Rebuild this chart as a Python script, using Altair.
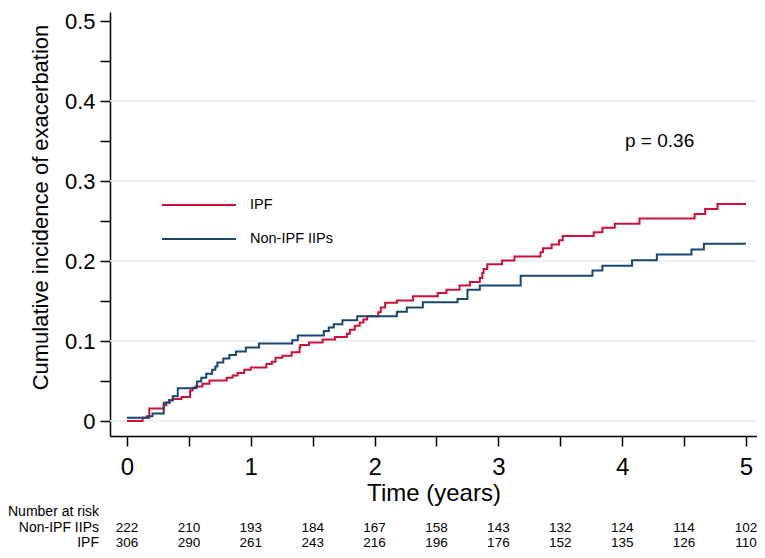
import altair as alt
import pandas as pd

# ---- data ----
nonipf_t = [0, 0.16, 0.206, 0.297, 0.345, 0.37, 0.41, 0.554, 0.565, 0.6, 0.64, 0.688, 0.714, 0.73,
            0.778, 0.827, 0.88, 0.96, 1.067, 1.335, 1.38, 1.59, 1.63, 1.67, 1.74, 1.86, 2.18, 2.26,
            2.39, 2.67, 2.75, 2.85, 3.18, 3.76, 3.84, 4.08, 4.28, 4.56, 4.66, 5.0]
nonipf_c = [0.004, 0.006, 0.0095, 0.0227, 0.026, 0.031, 0.041, 0.043, 0.0495, 0.054, 0.059, 0.064,
            0.068, 0.073, 0.078, 0.0825, 0.087, 0.092, 0.097, 0.101, 0.107, 0.1126, 0.117, 0.121,
            0.126, 0.131, 0.1365, 0.142, 0.1485, 0.1526, 0.164, 0.1695, 0.1815, 0.188, 0.194, 0.201,
            0.208, 0.2145, 0.2215, 0.2215]

ipf_t = [0, 0.126, 0.18, 0.297, 0.318, 0.34, 0.37, 0.44, 0.51, 0.53, 0.565, 0.61, 0.666, 0.805,
         0.853, 0.893, 0.947, 1.0, 1.126, 1.17, 1.2, 1.255, 1.33, 1.394, 1.40, 1.47, 1.58, 1.68,
         1.776, 1.8, 1.84, 1.88, 1.91, 1.94, 2.03, 2.05, 2.085, 2.18, 2.31, 2.51, 2.58, 2.686,
         2.77, 2.85, 2.87, 2.88, 2.91, 3.03, 3.13, 3.34, 3.36, 3.43, 3.49, 3.52, 3.77, 3.84, 3.94,
         4.14, 4.585, 4.67, 4.77, 5.0]
ipf_c = [0, 0.004, 0.0157, 0.0198, 0.023, 0.026, 0.0276, 0.030, 0.038, 0.0417, 0.043, 0.0467,
         0.0507, 0.054, 0.057, 0.06, 0.064, 0.067, 0.0714, 0.074, 0.079, 0.0817, 0.086, 0.092,
         0.095, 0.098, 0.102, 0.105, 0.109, 0.114, 0.119, 0.123, 0.127, 0.131, 0.136, 0.142,
         0.1477, 0.1506, 0.156, 0.16, 0.164, 0.1695, 0.1737, 0.1786, 0.185, 0.19, 0.196, 0.2005,
         0.2055, 0.211, 0.216, 0.2207, 0.226, 0.2314, 0.236, 0.2417, 0.2467, 0.253, 0.2587,
         0.265, 0.2714, 0.2714]

risk_times = [0, 0.5, 1, 1.5, 2, 2.5, 3, 3.5, 4, 4.5, 5]
risk_nonipf = [222, 210, 193, 184, 167, 158, 143, 132, 124, 114, 102]
risk_ipf = [306, 290, 261, 243, 216, 196, 176, 152, 135, 126, 110]

groups = ["IPF", "Non-IPF IIPs"]
colors = ["#cd1039", "#1a476f"]
grid_values = [0, 0.1, 0.2, 0.3, 0.4]
y_tick_values = [0, 0.05, 0.1, 0.15, 0.2, 0.25, 0.3, 0.35, 0.4, 0.45, 0.5]
x_tick_values = [0, 0.5, 1, 1.5, 2, 2.5, 3, 3.5, 4, 4.5, 5]

curves = pd.concat([
    pd.DataFrame({"t": ipf_t, "c": ipf_c, "g": "IPF"}),
    pd.DataFrame({"t": nonipf_t, "c": nonipf_c, "g": "Non-IPF IIPs"}),
])
grid = pd.DataFrame({"c": grid_values})
risk_a = pd.DataFrame({"t": risk_times, "n": risk_nonipf})
risk_b = pd.DataFrame({"t": risk_times, "n": risk_ipf})

FONT = "Liberation Sans"
W, H = 647, 424

xscale = alt.Scale(domain=[-0.1373, 5.089], nice=False, zero=False)
yscale = alt.Scale(domain=[-0.01875, 0.51125], nice=False, zero=False)

xaxis = alt.Axis(values=x_tick_values, title="Time (years)",
                 labelExpr="datum.value % 1 == 0 ? format(datum.value, '~g') : ''",
                 grid=False, domainColor="black", domainWidth=1.5, tickColor="black",
                 tickWidth=1.5, tickSize=10, labelFontSize=24, labelPadding=9,
                 titleFontSize=24, titleFontWeight="normal", titlePadding=2,
                 labelColor="black", titleColor="black", labelFont=FONT, titleFont=FONT)
yaxis = alt.Axis(values=y_tick_values, title="Cumulative incidence of exacerbation",
                 labelExpr="round(datum.value * 100) % 10 == 0 ? format(datum.value, '~g') : ''",
                 grid=False, domainColor="black", domainWidth=1.5, tickColor="black",
                 tickWidth=1.5, tickSize=10, labelFontSize=22, labelPadding=5,
                 titleFontSize=22, titleFontWeight="normal", titlePadding=12, titleY=195,
                 labelColor="black", titleColor="black", labelFont=FONT, titleFont=FONT)

gridlines = alt.Chart(grid).mark_rule(color="#e6eef1", strokeWidth=1.5).encode(
    y=alt.Y("c:Q", scale=yscale, axis=yaxis)
)

lines = alt.Chart(curves).mark_line(interpolate="step-after", strokeWidth=2).encode(
    x=alt.X("t:Q", scale=xscale, axis=xaxis),
    y=alt.Y("c:Q", scale=yscale, axis=yaxis),
    color=alt.Color("g:N", scale=alt.Scale(domain=groups, range=colors), legend=None),
    detail="g:N",
)

legend_layers = []
for i, (name, col) in enumerate(zip(groups, colors)):
    yy = 193 + 34 * i
    legend_layers.append(
        alt.Chart(pd.DataFrame({"g": [name]})).mark_rule(color=col, strokeWidth=1.8).encode(
            x=alt.value(52), x2=alt.value(126), y=alt.value(yy))
    )
    legend_layers.append(
        alt.Chart(pd.DataFrame({"g": [name]})).mark_text(
            align="left", baseline="middle", fontSize=14.5, font=FONT, color="black").encode(
            x=alt.value(140), y=alt.value(yy), text="g:N")
    )

ptext = alt.Chart(pd.DataFrame({"s": ["p = 0.36"]})).mark_text(
    align="left", baseline="middle", fontSize=19, font=FONT, color="black").encode(
    x=alt.value(515), y=alt.value(129), text="s:N")

num_font = 13.5
lab_font = 14
row_a = alt.Chart(risk_a).mark_text(baseline="middle", fontSize=num_font, font=FONT,
                                     color="black").encode(
    x=alt.X("t:Q", scale=xscale, axis=xaxis), y=alt.value(516), text="n:Q")
row_b = alt.Chart(risk_b).mark_text(baseline="middle", fontSize=num_font, font=FONT,
                                     color="black").encode(
    x=alt.X("t:Q", scale=xscale, axis=xaxis), y=alt.value(531), text="n:Q")

labels = pd.DataFrame({"s": ["Number at risk", "Non-IPF IIPs", "IPF"]})
lab_head = alt.Chart(labels.iloc[[0]]).mark_text(
    align="left", baseline="middle", fontSize=lab_font, font=FONT, color="black").encode(
    x=alt.value(-102), y=alt.value(500), text="s:N")
lab_a = alt.Chart(labels.iloc[[1]]).mark_text(
    align="right", baseline="middle", fontSize=lab_font, font=FONT, color="black").encode(
    x=alt.value(-11), y=alt.value(516), text="s:N")
lab_b = alt.Chart(labels.iloc[[2]]).mark_text(
    align="right", baseline="middle", fontSize=lab_font, font=FONT, color="black").encode(
    x=alt.value(-11), y=alt.value(531), text="s:N")

chart = alt.layer(
    gridlines, lines, *legend_layers, ptext, row_a, row_b, lab_head, lab_a, lab_b
).properties(
    width=W, height=H,
    autosize=alt.AutoSizeParams(type="none"),
    padding={"left": 102, "top": 4, "right": 0, "bottom": 114},
    background="white",
).configure_view(stroke=None)

chart.save("out.html", embed_options={"renderer": "svg", "actions": False})
